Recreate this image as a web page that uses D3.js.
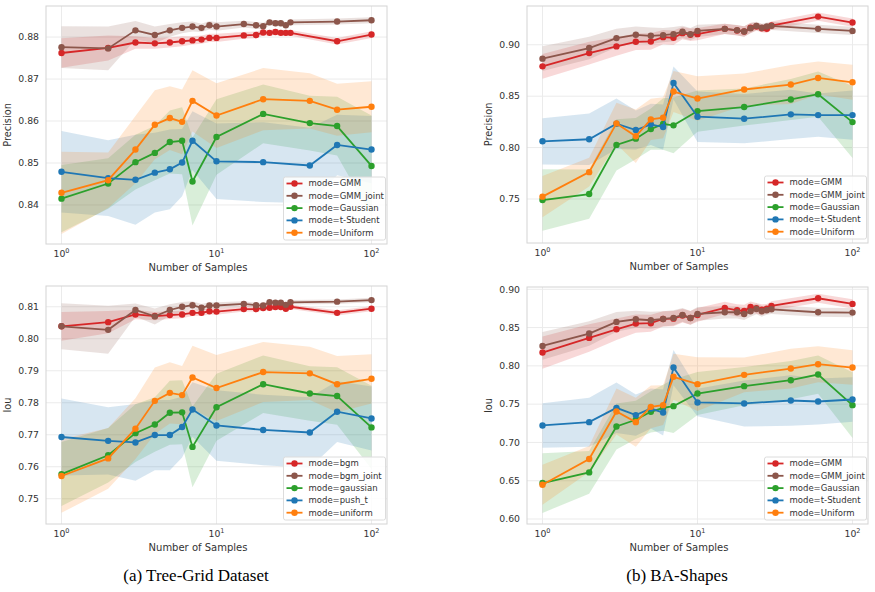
<html>
<head>
<meta charset="utf-8">
<style>
  body { margin: 0; background: #fff; }
  text { font-family: "DejaVu Sans", sans-serif; fill: #333; }
</style>
</head>
<body>
<svg id="chart"></svg>
<script src="https://cdn.jsdelivr.net/npm/d3@7"></script>
<script>
// x values: GMM-style modes are sampled densely, the others sparsely
var xDense = [1, 2, 3, 4, 5, 6, 7, 8, 9, 10, 15, 18, 20, 22, 24, 26, 28, 30, 60, 100];
var xSparse = [1, 2, 3, 4, 5, 6, 7, 10, 20, 40, 60, 100];

var labelsTreeP = ["mode=GMM", "mode=GMM_joint", "mode=Gaussian", "mode=t-Student", "mode=Uniform"];
var labelsTreeI = ["mode=bgm", "mode=bgm_joint", "mode=gaussian", "mode=push_t", "mode=uniform"];
var labelsBA = ["mode=GMM", "mode=GMM_joint", "mode=Gaussian", "mode=t-Student", "mode=Uniform"];
var colors = ["#d62728", "#8c564b", "#2ca02c", "#1f77b4", "#ff7f0e"];

// ---- Tree-Grid, Precision
var treePGmm = [0.8762, 0.8774, 0.8787, 0.8785, 0.8787, 0.8790, 0.8792, 0.8794, 0.8798, 0.8798, 0.8804, 0.8805, 0.8811, 0.8810, 0.8812, 0.8810, 0.8810, 0.8810, 0.8790, 0.8806];
var treePGmmCi = [0.0035, 0.003, 0.0015, 0.0013, 0.0012, 0.0012, 0.001, 0.001, 0.001, 0.001, 0.0008, 0.0008, 0.0007, 0.0007, 0.0007, 0.0007, 0.0007, 0.0007, 0.0008, 0.0008];
var treePJoint = [0.8776, 0.8773, 0.8816, 0.8805, 0.8816, 0.8822, 0.8825, 0.8822, 0.8828, 0.8825, 0.8831, 0.8828, 0.8826, 0.8835, 0.8833, 0.8833, 0.8828, 0.8835, 0.8837, 0.8840];
var treePJointCi = [0.005, 0.0052, 0.0022, 0.002, 0.0015, 0.0013, 0.0012, 0.001, 0.001, 0.001, 0.0008, 0.0008, 0.0008, 0.0007, 0.0007, 0.0007, 0.0007, 0.0007, 0.0007, 0.0007];
var treePGauss = [0.8415, 0.8451, 0.8502, 0.8524, 0.8550, 0.8553, 0.8456, 0.8562, 0.8617, 0.8595, 0.8588, 0.8493];
var treePGaussCi = [0.008, 0.006, 0.0065, 0.0065, 0.0075, 0.008, 0.0105, 0.009, 0.007, 0.0065, 0.007, 0.012];
var treePStud = [0.8479, 0.8464, 0.8460, 0.8477, 0.8485, 0.8501, 0.8553, 0.8504, 0.8502, 0.8494, 0.8543, 0.8532];
var treePStudCi = [0.0097, 0.009, 0.0107, 0.0095, 0.0095, 0.008, 0.007, 0.009, 0.0095, 0.009, 0.0072, 0.008];
var treePUnif = [0.8429, 0.8459, 0.8532, 0.8591, 0.8607, 0.8598, 0.8648, 0.8613, 0.8652, 0.8648, 0.8627, 0.8634];
var treePUnifCi = [0.0098, 0.0066, 0.008, 0.0082, 0.0076, 0.0077, 0.0073, 0.0077, 0.0074, 0.0066, 0.0062, 0.0061];

// ---- Tree-Grid, IoU
var treeIGmm = [0.8039, 0.8052, 0.8076, 0.8071, 0.8074, 0.8076, 0.8081, 0.8081, 0.8086, 0.8085, 0.8093, 0.8093, 0.8096, 0.8097, 0.8099, 0.8099, 0.8094, 0.8100, 0.8081, 0.8094];
var treeIGmmCi = [0.0045, 0.0035, 0.0015, 0.0013, 0.0012, 0.0012, 0.001, 0.001, 0.001, 0.001, 0.0008, 0.0008, 0.0008, 0.0007, 0.0007, 0.0007, 0.0007, 0.0007, 0.0008, 0.0008];
var treeIJoint = [0.8039, 0.8028, 0.8090, 0.8070, 0.8090, 0.8100, 0.8105, 0.8097, 0.8104, 0.8104, 0.8109, 0.8105, 0.8104, 0.8114, 0.8113, 0.8113, 0.8106, 0.8114, 0.8116, 0.8121];
var treeIJointCi = [0.0072, 0.0075, 0.002, 0.0025, 0.0018, 0.0015, 0.0012, 0.0012, 0.001, 0.001, 0.0008, 0.0008, 0.0008, 0.0007, 0.0007, 0.0007, 0.0007, 0.0007, 0.0007, 0.0007];
var treeIGauss = [0.7577, 0.7636, 0.7705, 0.7732, 0.7769, 0.7770, 0.7662, 0.7786, 0.7858, 0.7829, 0.7821, 0.7723];
var treeIGaussCi = [0.01, 0.0085, 0.009, 0.0085, 0.01, 0.01, 0.0126, 0.0105, 0.009, 0.0085, 0.009, 0.013];
var treeIStud = [0.7693, 0.7681, 0.7676, 0.7699, 0.7699, 0.7724, 0.7779, 0.7729, 0.7715, 0.7707, 0.7772, 0.7751];
var treeIStudCi = [0.012, 0.0105, 0.012, 0.011, 0.011, 0.0095, 0.0085, 0.011, 0.011, 0.011, 0.0095, 0.01];
var treeIUnif = [0.7571, 0.7626, 0.7719, 0.7806, 0.7831, 0.7824, 0.7879, 0.7846, 0.7896, 0.7892, 0.7858, 0.7875];
var treeIUnifCi = [0.0115, 0.0095, 0.0095, 0.0104, 0.0096, 0.0091, 0.0099, 0.0103, 0.0094, 0.0083, 0.0088, 0.0077];

// ---- BA-Shapes, Precision
var baPGmm = [0.8790, 0.8919, 0.8984, 0.9029, 0.9032, 0.9074, 0.9068, 0.9113, 0.9097, 0.9103, 0.9155, 0.9139, 0.9129, 0.9165, 0.9177, 0.9161, 0.9155, 0.9187, 0.9274, 0.9216];
var baPGmmCi = [0.012, 0.011, 0.009, 0.008, 0.008, 0.007, 0.007, 0.006, 0.006, 0.006, 0.005, 0.005, 0.005, 0.005, 0.004, 0.004, 0.004, 0.004, 0.004, 0.004];
var baPJoint = [0.8865, 0.8968, 0.9065, 0.9097, 0.9087, 0.9094, 0.9103, 0.9126, 0.9103, 0.9135, 0.9155, 0.9142, 0.9129, 0.9161, 0.9184, 0.9165, 0.9177, 0.9184, 0.9155, 0.9135];
var baPJointCi = [0.012, 0.011, 0.009, 0.008, 0.008, 0.007, 0.007, 0.006, 0.006, 0.006, 0.005, 0.005, 0.005, 0.005, 0.004, 0.004, 0.004, 0.004, 0.004, 0.004];
var baPGauss = [0.7490, 0.7548, 0.8026, 0.8087, 0.8180, 0.8229, 0.8216, 0.8355, 0.8394, 0.8468, 0.8519, 0.8248];
var baPGaussCi = [0.03, 0.024, 0.025, 0.02, 0.02, 0.025, 0.027, 0.02, 0.018, 0.02, 0.022, 0.035];
var baPStud = [0.8061, 0.8081, 0.8232, 0.8171, 0.8226, 0.8200, 0.8629, 0.8300, 0.8281, 0.8323, 0.8316, 0.8316];
var baPStudCi = [0.0225, 0.025, 0.0245, 0.019, 0.02, 0.022, 0.016, 0.0245, 0.024, 0.024, 0.021, 0.024];
var baPUnif = [0.7523, 0.7761, 0.8235, 0.8110, 0.8274, 0.8290, 0.8545, 0.8477, 0.8565, 0.8613, 0.8677, 0.8635];
var baPUnifCi = [0.02, 0.014, 0.02, 0.026, 0.02, 0.02, 0.02, 0.0217, 0.0155, 0.019, 0.016, 0.017];

// ---- BA-Shapes, IoU
var baIGmm = [0.8174, 0.8365, 0.8478, 0.8552, 0.8557, 0.8613, 0.8617, 0.8657, 0.8626, 0.8665, 0.8757, 0.8726, 0.8717, 0.8770, 0.8752, 0.8735, 0.8748, 0.8783, 0.8883, 0.8809];
var baIGmmCi = [0.021, 0.018, 0.014, 0.012, 0.011, 0.01, 0.01, 0.009, 0.009, 0.009, 0.008, 0.008, 0.008, 0.007, 0.007, 0.007, 0.006, 0.006, 0.006, 0.006];
var baIJoint = [0.8261, 0.8422, 0.8574, 0.8609, 0.8596, 0.8613, 0.8626, 0.8665, 0.8626, 0.8678, 0.8700, 0.8700, 0.8678, 0.8713, 0.8743, 0.8713, 0.8726, 0.8739, 0.8700, 0.8696];
var baIJointCi = [0.018, 0.016, 0.013, 0.011, 0.011, 0.01, 0.01, 0.009, 0.009, 0.009, 0.008, 0.008, 0.008, 0.007, 0.007, 0.007, 0.006, 0.006, 0.006, 0.006];
var baIGauss = [0.6470, 0.6609, 0.7209, 0.7296, 0.7400, 0.7452, 0.7474, 0.7639, 0.7735, 0.7813, 0.7887, 0.7487];
var baIGaussCi = [0.039, 0.028, 0.03, 0.025, 0.027, 0.03, 0.035, 0.028, 0.025, 0.025, 0.025, 0.043];
var baIStud = [0.7222, 0.7265, 0.7452, 0.7357, 0.7443, 0.7391, 0.7978, 0.7522, 0.7509, 0.7548, 0.7535, 0.7561];
var baIStudCi = [0.029, 0.032, 0.033, 0.027, 0.026, 0.03, 0.023, 0.018, 0.03, 0.033, 0.03, 0.029];
var baIUnif = [0.6448, 0.6783, 0.7404, 0.7265, 0.7465, 0.7487, 0.7857, 0.7761, 0.7883, 0.7965, 0.8022, 0.7978];
var baIUnifCi = [0.026, 0.017, 0.03, 0.032, 0.028, 0.026, 0.03, 0.035, 0.0226, 0.026, 0.0235, 0.0226];

var treePTicks = [0.84, 0.85, 0.86, 0.87, 0.88];
var treeITicks = [0.75, 0.76, 0.77, 0.78, 0.79, 0.80, 0.81];
var baPTicks = [0.75, 0.80, 0.85, 0.90];
var baITicks = [0.60, 0.65, 0.70, 0.75, 0.80, 0.85, 0.90];
var xTicks = [1, 10, 100];

var svg = d3.select("svg#chart")
    .attr("width", 875)
    .attr("height", 592);

function series(ys, ci) {
    var x = ys.length == xDense.length ? xDense : xSparse;
    return ys.map(function(v, i) { return {x: x[i], y: v, lo: v - ci[i], hi: v + ci[i]}; });
}

function drawPanel(p) {
    var width = 341, height = p.height;
    var g = svg.append("g")
        .attr("transform", "translate(" + p.left + "," + p.top + ")");

    var x = d3.scaleLog()
        .domain([Math.pow(10, -0.1), Math.pow(10, 2.1)])
        .range([0, width]);
    var y = d3.scaleLinear()
        .domain(p.yDomain)
        .range([height, 0]);

    // grid
    g.selectAll(".hgrid").data(p.yTicks).enter().append("line")
        .attr("x1", 0).attr("x2", width)
        .attr("y1", function(d) { return y(d); })
        .attr("y2", function(d) { return y(d); })
        .attr("stroke", "#ebebeb").attr("stroke-width", 1);
    g.selectAll(".vgrid").data(xTicks).enter().append("line")
        .attr("x1", function(d) { return x(d); })
        .attr("x2", function(d) { return x(d); })
        .attr("y1", 0).attr("y2", height)
        .attr("stroke", "#ebebeb").attr("stroke-width", 1);

    var area = d3.area()
        .x(function(d) { return x(d.x); })
        .y0(function(d) { return y(d.lo); })
        .y1(function(d) { return y(d.hi); });
    var line = d3.line()
        .x(function(d) { return x(d.x); })
        .y(function(d) { return y(d.y); });

    var data = p.series;
    data.forEach(function(s, i) {
        g.append("path").datum(s)
            .attr("d", area)
            .attr("fill", colors[i])
            .attr("fill-opacity", 0.18);
    });
    data.forEach(function(s, i) {
        g.append("path").datum(s)
            .attr("d", line)
            .attr("fill", "none")
            .attr("stroke", colors[i])
            .attr("stroke-width", 1.8);
        g.selectAll(".pt" + i).data(s).enter().append("circle")
            .attr("cx", function(d) { return x(d.x); })
            .attr("cy", function(d) { return y(d.y); })
            .attr("r", 3.2)
            .attr("fill", colors[i]);
    });

    // frame
    g.append("rect")
        .attr("width", width).attr("height", height)
        .attr("fill", "none").attr("stroke", "#d4d4d4").attr("stroke-width", 1);

    // y ticks
    g.selectAll(".ylab").data(p.yTicks).enter().append("text")
        .attr("x", -7)
        .attr("y", function(d) { return y(d); })
        .attr("dy", "0.35em")
        .attr("text-anchor", "end")
        .attr("font-size", 9.3)
        .text(d3.format(".2f"));

    // x ticks: 10^k
    var xl = g.selectAll(".xlab").data(xTicks).enter().append("text")
        .attr("x", function(d) { return x(d); })
        .attr("y", height + 13)
        .attr("text-anchor", "middle")
        .attr("font-size", 9.3);
    xl.append("tspan").text("10");
    xl.append("tspan")
        .attr("dy", -4).attr("font-size", 6.5)
        .text(function(d) { return Math.round(Math.log10(d)); });

    g.append("text")
        .attr("x", p.xlabelX)
        .attr("y", height + 27)
        .attr("text-anchor", "middle")
        .attr("font-size", 10)
        .text("Number of Samples");

    g.append("text")
        .attr("transform", "translate(" + p.ylabelX + "," + height / 2 + ") rotate(-90)")
        .attr("text-anchor", "middle")
        .attr("font-size", 9.8)
        .text(p.ylabel);

    // legend
    var lw = 102, lh = 63;
    var lg = g.append("g")
        .attr("transform", "translate(" + (width - lw - 1.5) + "," + (height - lh - 4) + ")");
    lg.append("rect")
        .attr("width", lw).attr("height", lh)
        .attr("rx", 2)
        .attr("fill", "#fff").attr("fill-opacity", 0.85)
        .attr("stroke", "#dcdcdc");
    p.labels.forEach(function(lab, i) {
        var ly = 6.5 + i * 12.3;
        lg.append("line")
            .attr("x1", 3).attr("x2", 19)
            .attr("y1", ly).attr("y2", ly)
            .attr("stroke", colors[i]).attr("stroke-width", 1.8);
        lg.append("circle")
            .attr("cx", 11).attr("cy", ly).attr("r", 3.2)
            .attr("fill", colors[i]);
        lg.append("text")
            .attr("x", 25).attr("y", ly)
            .attr("dy", "0.35em")
            .attr("font-size", 8.5)
            .text(lab);
    });
}

drawPanel({
    left: 46, top: 6, height: 238,
    yDomain: [0.8307, 0.8874], yTicks: treePTicks, ylabel: "Precision",
    ylabelX: -35, xlabelX: 152,
    labels: labelsTreeP,
    series: [series(treePGmm, treePGmmCi), series(treePJoint, treePJointCi),
             series(treePGauss, treePGaussCi), series(treePStud, treePStudCi),
             series(treePUnif, treePUnifCi)]
});
drawPanel({
    left: 46, top: 286, height: 238,
    yDomain: [0.7421, 0.8165], yTicks: treeITicks, ylabel: "Iou",
    ylabelX: -35, xlabelX: 152,
    labels: labelsTreeI,
    series: [series(treeIGmm, treeIGmmCi), series(treeIJoint, treeIJointCi),
             series(treeIGauss, treeIGaussCi), series(treeIStud, treeIStudCi),
             series(treeIUnif, treeIUnifCi)]
});
drawPanel({
    left: 527, top: 6, height: 237,
    yDomain: [0.7072, 0.9377], yTicks: baPTicks, ylabel: "Precision",
    ylabelX: -35, xlabelX: 152,
    labels: labelsBA,
    series: [series(baPGmm, baPGmmCi), series(baPJoint, baPJointCi),
             series(baPGauss, baPGaussCi), series(baPStud, baPStudCi),
             series(baPUnif, baPUnifCi)]
});
drawPanel({
    left: 527, top: 287, height: 237,
    yDomain: [0.5935, 0.903], yTicks: baITicks, ylabel: "Iou",
    ylabelX: -35, xlabelX: 152,
    labels: labelsBA,
    series: [series(baIGmm, baIGmmCi), series(baIJoint, baIJointCi),
             series(baIGauss, baIGaussCi), series(baIStud, baIStudCi),
             series(baIUnif, baIUnifCi)]
});

// sub-figure captions
svg.append("text")
    .attr("x", 196).attr("y", 581)
    .attr("text-anchor", "middle")
    .style("font-family", "'Liberation Serif', serif")
    .style("fill", "#000")
    .attr("font-size", 17)
    .text("(a) Tree-Grid Dataset");
svg.append("text")
    .attr("x", 677).attr("y", 581)
    .attr("text-anchor", "middle")
    .style("font-family", "'Liberation Serif', serif")
    .style("fill", "#000")
    .attr("font-size", 17)
    .text("(b) BA-Shapes");
</script>
</body>
</html>
